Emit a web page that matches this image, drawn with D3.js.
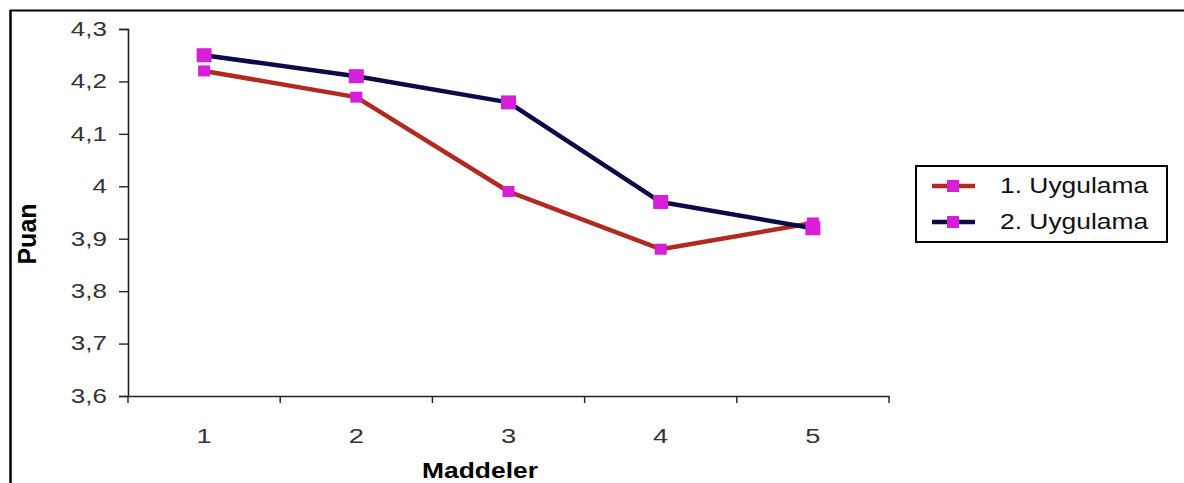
<!DOCTYPE html>
<html><head><meta charset="utf-8">
<script src="https://cdn.jsdelivr.net/npm/d3@7"></script>
<style>body{margin:0;background:#fff}svg{display:block}</style>
</head><body>
<svg id="c" width="1184" height="483"></svg>
<script>
const categories = ["1","2","3","4","5"];
const seriesNames = ["1. Uygulama","2. Uygulama"];
const uygulama1 = [4.22, 4.17, 3.99, 3.88, 3.93];
const uygulama2 = [4.25, 4.21, 4.16, 3.97, 3.92];
const yTicks = [3.6,3.7,3.8,3.9,4.0,4.1,4.2,4.3];
const yTickLabels = ["3,6","3,7","3,8","3,9","4","4,1","4,2","4,3"];

const FONT = "Arial, 'Liberation Sans', sans-serif";
const SX = 1.25; // horizontal stretch of the original picture's text

const svg = d3.select("#c");
const x = d3.scaleBand().domain(categories).range([128,889]).padding(0);
const y = d3.scaleLinear().domain([3.6,4.3]).range([396,29]);

// frame
svg.append("line").attr("x1",10).attr("x2",1184).attr("y1",10.5).attr("y2",10.5).attr("stroke","#000").attr("stroke-width",2);
svg.append("line").attr("x1",10.5).attr("x2",10.5).attr("y1",10).attr("y2",483).attr("stroke","#000").attr("stroke-width",2.5);

// y axis
const ya = svg.append("g").attr("transform","translate(128,0)")
  .call(d3.axisLeft(y).tickValues(yTicks).tickSize(9).tickPadding(12).tickFormat((d,i)=>yTickLabels[i]));
ya.select(".domain").attr("stroke","#222").attr("stroke-width",1.6);
ya.selectAll(".tick line").attr("stroke","#222").attr("stroke-width",1.4);
ya.selectAll(".tick text").attr("font-size",20).attr("fill","#333").attr("font-family",FONT)
  .attr("x",0).attr("transform",`translate(-21,0) scale(1.3,1)`);

// x axis
const xa = svg.append("g").attr("transform","translate(0,396)")
  .call(d3.axisBottom(x).tickSize(0).tickPadding(32));
xa.select(".domain").attr("stroke","#222").attr("stroke-width",1.6);
xa.selectAll(".tick text").attr("font-size",21).attr("fill","#333").attr("font-family",FONT)
  .attr("transform","scale(1.3,1)");
const bounds = categories.map(c=>x(c)).concat([x.range()[1]]);
xa.selectAll(".bt").data(bounds).enter().append("line")
  .attr("x1",d=>d).attr("x2",d=>d).attr("y1",0).attr("y2",7).attr("stroke","#222").attr("stroke-width",1.4);

// axis titles
svg.append("text").attr("transform",`translate(480,478) scale(${SX*0.96},1)`).attr("text-anchor","middle")
  .attr("font-family",FONT).attr("font-weight","bold").attr("font-size",22).text("Maddeler");
svg.append("text").attr("transform","translate(36,234) rotate(-90)").attr("text-anchor","middle")
  .attr("font-family",FONT).attr("font-weight","bold").attr("font-size",25).text("Puan");

const cx = d => x(d) + x.bandwidth()/2;
const series = [
  {name:seriesNames[0], vals:uygulama1, color:"#b02a20", mw:12, mh:11},
  {name:seriesNames[1], vals:uygulama2, color:"#0b0b48", mw:15, mh:14}
];
const line = d3.line().x((d,i)=>cx(categories[i])).y(d=>y(d));
series.forEach(s=>{
  svg.append("path").datum(s.vals).attr("d",line).attr("fill","none")
    .attr("stroke",s.color).attr("stroke-width",4.5).attr("stroke-linejoin","round");
});
series.forEach(s=>{
  svg.selectAll(null).data(s.vals).enter().append("rect")
    .attr("x",(d,i)=>cx(categories[i])-s.mw/2).attr("y",d=>y(d)-s.mh/2)
    .attr("width",s.mw).attr("height",s.mh).attr("fill","#d81ed8");
});

// legend
const lg = svg.append("g");
lg.append("rect").attr("x",916).attr("y",166).attr("width",251).attr("height",76)
  .attr("fill","#fff").attr("stroke","#000").attr("stroke-width",2);
series.forEach((s,i)=>{
  const yy = 186 + i*36;
  lg.append("line").attr("x1",932).attr("x2",975).attr("y1",yy).attr("y2",yy).attr("stroke",s.color).attr("stroke-width",4.5);
  lg.append("rect").attr("x",947).attr("y",yy-6).attr("width",12).attr("height",12).attr("fill","#d81ed8");
  lg.append("text").attr("transform",`translate(1000,${yy+7}) scale(1.2,1)`).attr("font-family",FONT)
    .attr("font-size",22).attr("fill","#111").text(s.name);
});
</script>
</body></html>
